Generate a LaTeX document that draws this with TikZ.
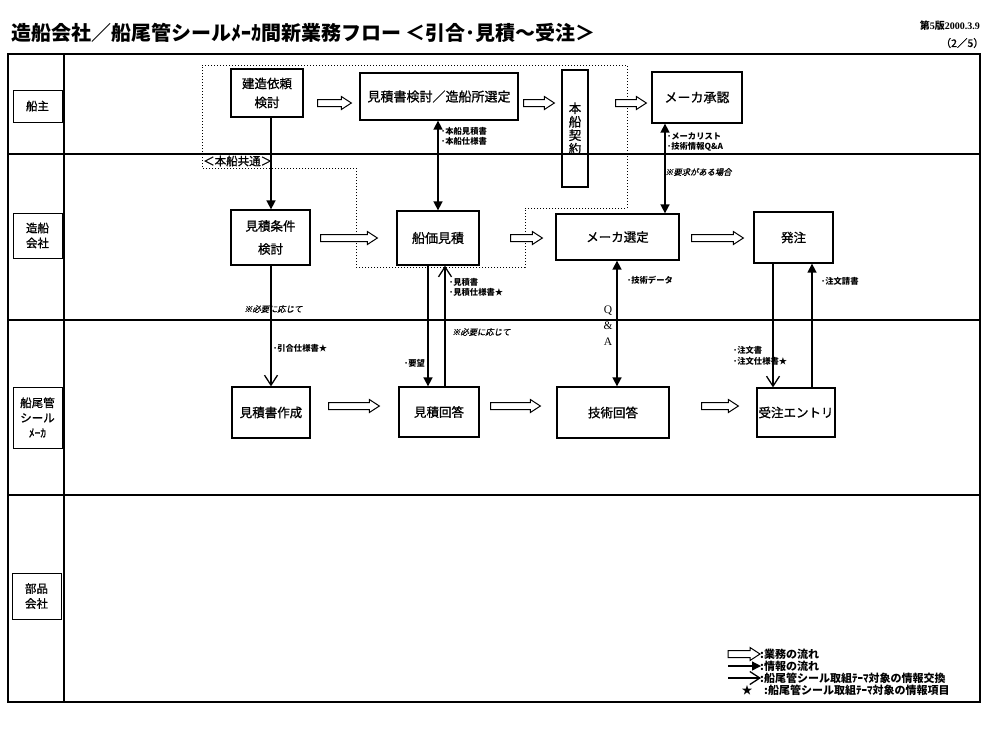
\documentclass[tikz,border=0pt]{standalone}
\usepackage{fontspec}
\setmainfont{Noto Sans CJK JP}
\newfontfamily\slcjk[FakeSlant=0.2,FakeBold=0.8]{Noto Sans CJK JP}
\newfontfamily\mdcjk[FakeBold=1]{Noto Sans CJK JP}
\newfontfamily\tms{Liberation Serif}
\usetikzlibrary{arrows.meta,calc}
\newcommand\fs[2]{\fontsize{#1}{#2}\selectfont}
\newcommand\harrow[2]{%
  \path #1 coordinate (hs) #2 coordinate (he);
  \draw[hollow] ($(hs)+(0,-3.5)$) -- ($(he)+(-10,-3.5)$) -- ($(he)+(-10,-6.5)$) -- (he)
    -- ($(he)+(-10,6.5)$) -- ($(he)+(-10,3.5)$) -- ($(hs)+(0,3.5)$) -- cycle;}
\tikzset{
  FTri/.tip={Triangle[length=9pt,width=9pt]},
  OVee/.tip={Straight Barb[length=10pt,width=13pt,line width=1.3pt]},
  frame/.style={line width=1.2pt},
  box/.style={draw,line width=1.3pt,inner sep=0pt,align=center,font=\mdcjk\fs{12.5}{19}},
  lane/.style={draw,line width=1pt,inner sep=0pt,align=center,minimum width=49,font=\mdcjk\fs{11.5}{15}},
  info/.style={line width=1.6pt,-FTri},
  both/.style={line width=1.6pt,FTri-FTri},
  theme/.style={line width=1.6pt,-OVee},
  hollow/.style={draw,line width=1pt,fill=white},
  dotbox/.style={dotted,line width=1pt},
  lbl/.style={anchor=west,inner sep=0pt,align=left,font=\bfseries\fs{8.3}{10.5}},
  note/.style={anchor=west,inner sep=0pt,font=\slcjk\fs{8.3}{10}},
  leg/.style={anchor=west,inner sep=0pt,font=\bfseries\fs{11}{12}},
}
\begin{document}
\begin{tikzpicture}[x=1pt,y=-1pt]
\useasboundingbox (0,0) rectangle (1000,732);

% title and page info
\node[anchor=west,inner sep=0pt,font=\bfseries\fs{20}{24}] (title) at (11,33)
  {造船会社／船尾管シールﾒｰｶ間新業務フロー ＜引合･見積～受注＞};
\node[anchor=east,inner sep=0pt,font=\bfseries\fs{10}{12}] (ver) at (980,26) {第{\tms\bfseries 5}版{\tms\bfseries 2000.3.9}};
\node[anchor=east,inner sep=0pt,font=\mdcjk\fs{10.5}{12}] (page) at (984,43) {（2／5）};

% frame and lanes
\draw[frame] (8,54) rectangle (980,702);
\draw[frame] (64,54) -- (64,702);
\draw[frame] (8,154) -- (980,154);
\draw[frame] (8,320) -- (980,320);
\draw[frame] (8,495) -- (980,495);

\node[lane,minimum height=32] (ln1) at (37.5,106) {船主};
\node[lane,minimum height=45] (ln2) at (37.5,235.5) {造船\\会社};
\node[lane,minimum height=61] (ln3) at (37.5,417.5) {船尾管\\シール\\ﾒｰｶ};
\node[lane,minimum height=46] (ln4) at (36.5,596) {部品\\会社};

% dotted common region
\draw[dotbox] (202,65) -- (627,65) -- (627,208) -- (525,208) -- (525,267)
  -- (356,267) -- (356,168) -- (202,168) -- cycle;
\node[anchor=west,inner sep=0pt,font=\mdcjk\fs{11.5}{14}] (kyotsu) at (203,161) {＜本船共通＞};

% process boxes
\node[box,minimum width=72,minimum height=48] (kenzo) at (267,93) {建造依頼\\検討};
\node[box,minimum width=158,minimum height=47,font=\mdcjk\fs{13}{16}] (kentou) at (439,96.5) {見積書検討／造船所選定};
\node[box,minimum width=26,minimum height=117,font=\mdcjk\fs{12.5}{13.5}] (keiyaku) at (575,128.5) {本\\船\\契\\約};
\node[box,minimum width=90,minimum height=51,font=\mdcjk\fs{13}{16}] (shounin) at (697,97.5) {メーカ承認};
\node[box,minimum width=79,minimum height=55,font=\mdcjk\fs{12.5}{23}] (jouken) at (270.5,237.5) {見積条件\\検討};
\node[box,minimum width=82,minimum height=54,font=\mdcjk\fs{13}{16}] (senka) at (438,238) {船価見積};
\node[box,minimum width=123,minimum height=46] (sentei) at (617.5,237) {メーカ選定};
\node[box,minimum width=79,minimum height=51] (hacchu) at (793.5,237.5) {発注};
\node[box,minimum width=78,minimum height=51] (sakusei) at (271,412.5) {見積書作成};
\node[box,minimum width=80,minimum height=50] (kaitou) at (439,412) {見積回答};
\node[box,minimum width=112,minimum height=51] (gijutsu) at (613,412.5) {技術回答};
\node[box,minimum width=78,minimum height=49] (entry) at (796,412.5) {受注エントリ};

% helper coordinates
\coordinate (r1) at (0,103);
\coordinate (r2) at (0,238);
\coordinate (r3) at (0,406);
\coordinate (v271) at (271,0);
\coordinate (v438) at (438,0);
\coordinate (v665) at (665,0);
\coordinate (v428) at (428,0);
\coordinate (v445) at (445,0);
\coordinate (v617) at (617,0);
\coordinate (v773) at (773,0);
\coordinate (v812) at (812,0);

% business flow (hollow arrows)
\harrow{($(kenzo.east |- r1)+(14,0)$)}{($(kentou.west |- r1)+(-8,0)$)}
\harrow{($(kentou.east |- r1)+(5,0)$)}{($(keiyaku.west |- r1)+(-7,0)$)}
\harrow{($(keiyaku.east |- r1)+(27,0)$)}{($(shounin.west |- r1)+(-5,0)$)}
\harrow{($(jouken.east |- r2)+(10,0)$)}{($(senka.west |- r2)+(-19,0)$)}
\harrow{($(senka.east |- r2)+(31,0)$)}{($(sentei.west |- r2)+(-13,0)$)}
\harrow{($(sentei.east |- r2)+(12,0)$)}{($(hacchu.west |- r2)+(-10,0)$)}
\harrow{($(sakusei.east |- r3)+(18,0)$)}{($(kaitou.west |- r3)+(-19,0)$)}
\harrow{($(kaitou.east |- r3)+(11,0)$)}{($(gijutsu.west |- r3)+(-16,0)$)}
\harrow{($(gijutsu.east |- r3)+(32,0)$)}{($(entry.west |- r3)+(-18,0)$)}

% information connectors
\draw[info] (kenzo.south -| v271) -- (jouken.north -| v271);
\draw[theme] (jouken.south -| v271) -- (sakusei.north -| v271);
\draw[both] (kentou.south -| v438) -- (senka.north -| v438);
\draw[both] (shounin.south -| v665) -- (sentei.north -| v665);
\draw[info] (senka.south -| v428) -- (kaitou.north -| v428);
\draw[theme] (kaitou.north -| v445) -- (senka.south -| v445);
\draw[both] (sentei.south -| v617) -- (gijutsu.north -| v617);
\draw[theme] (hacchu.south -| v773) -- (entry.north -| v773);
\draw[info] (entry.north -| v812) -- (hacchu.south -| v812);

% labels
\node[lbl] (t1) at (441,136.5) {･本船見積書\\･本船仕様書};
\node[lbl] (t2) at (667,142) {･メーカリスト\\･技術情報Q\&A};
\node[note] (t3) at (665,172) {※要求がある場合};
\node[note] (t4) at (244,309) {※必要に応じて};
\node[lbl] (t5) at (273,348) {･引合仕様書★};
\node[lbl] (t6) at (449,287.5) {･見積書\\･見積仕様書★};
\node[note] (t7) at (452,332) {※必要に応じて};
\node[lbl] (t8) at (404,363) {･要望};
\node[lbl] (t9) at (627,280) {･技術データ};
\node[lbl] (t10) at (821,281) {･注文請書};
\node[lbl] (t11) at (733,356) {･注文書\\･注文仕様書★};
\node[inner sep=0pt,align=center,font=\tms\fs{11.5}{16}] (qa) at (608,326) {Q\\\&\\A};

% legend
\harrow{(728,654)}{(760,654)}
\coordinate (lg2a) at (728,666);
\coordinate (lg2b) at (761,666);
\coordinate (lg3a) at (728,678);
\coordinate (lg3b) at (761,678);
\draw[info,line width=1.3pt] (lg2a) -- (lg2b);
\draw[theme,line width=1.3pt] (lg3a) -- (lg3b);
\node[inner sep=0pt,font=\fs{11}{12}] (star) at (747,690) {★};
\node[leg] (lt1) at (760,654) {:業務の流れ};
\node[leg] (lt2) at (760,666) {:情報の流れ};
\node[leg] (lt3) at (760,678) {:船尾管シール取組ﾃｰﾏ対象の情報交換};
\node[leg] (lt4) at (764,690) {:船尾管シール取組ﾃｰﾏ対象の情報項目};
\end{tikzpicture}
\end{document}
